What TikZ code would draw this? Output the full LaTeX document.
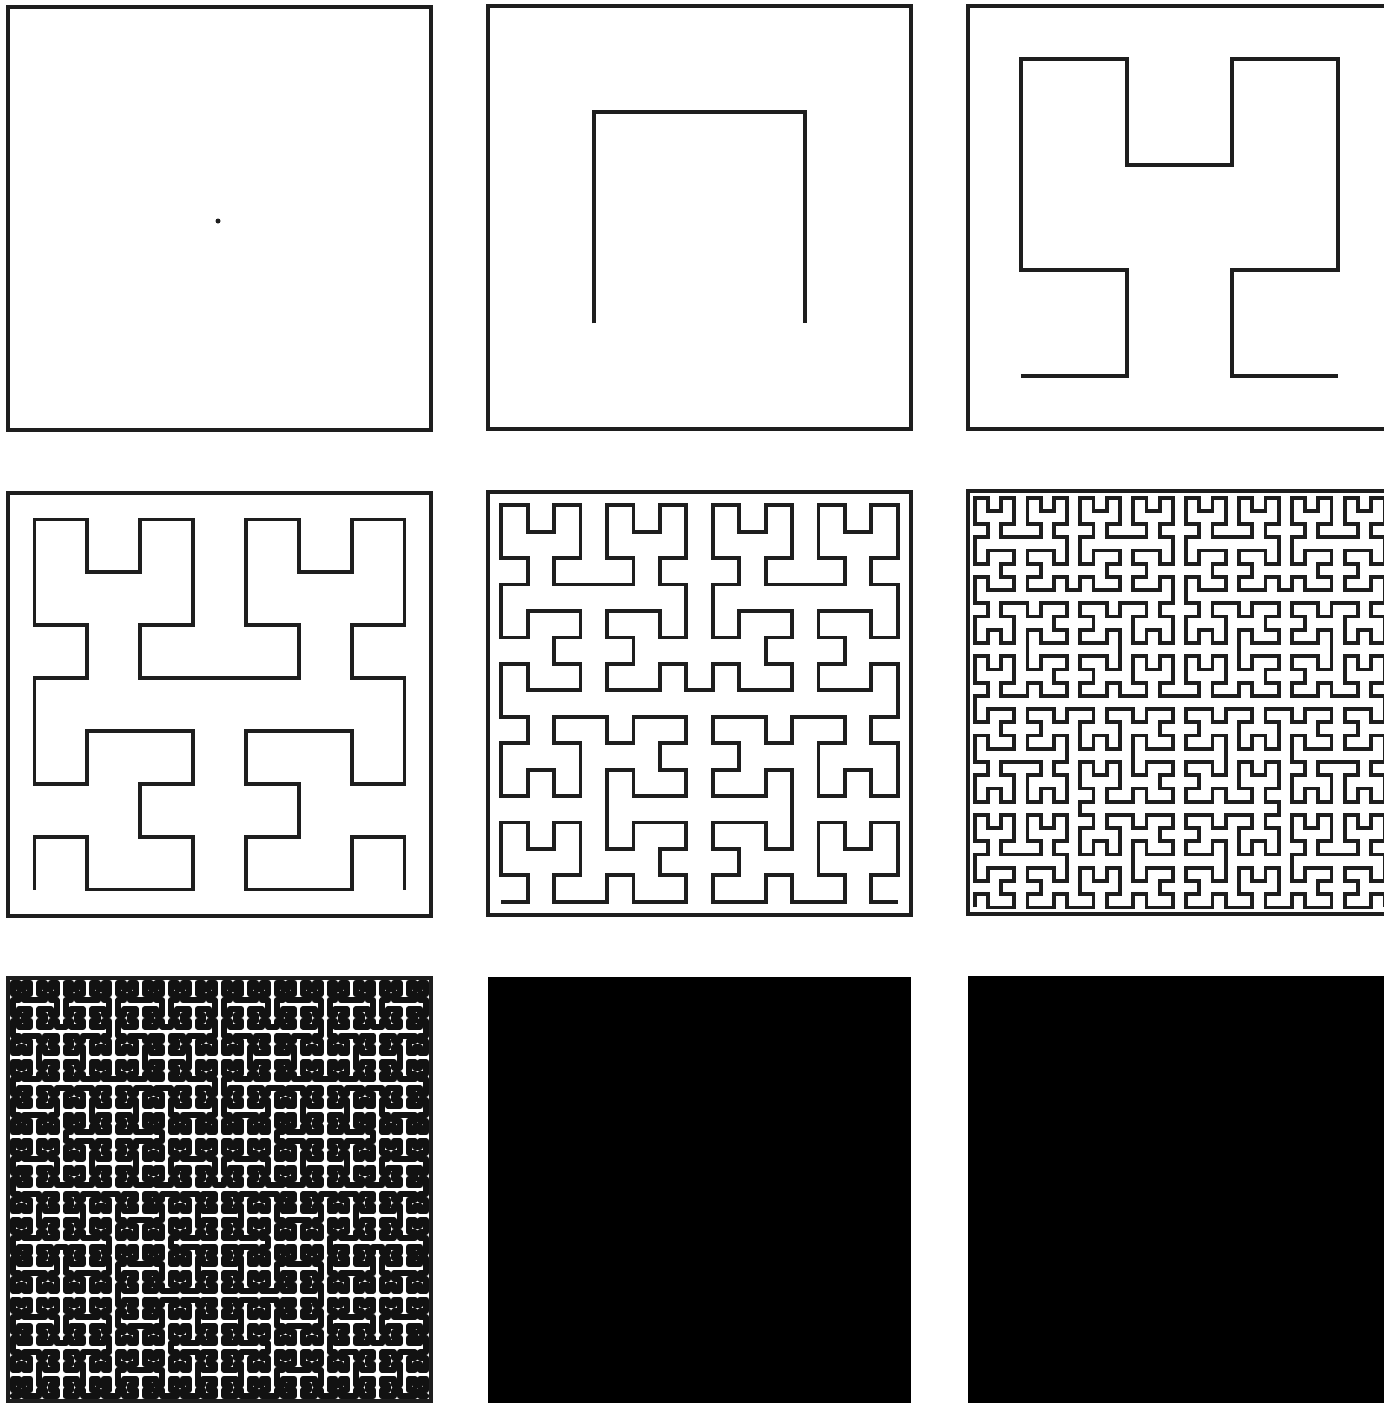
\documentclass[tikz,border=0pt]{standalone}
\definecolor{ink}{RGB}{30,30,30}
\definecolor{solid}{RGB}{18,18,18}
% --- Hilbert curve turtle ---
\newdimen\hilbx \newdimen\hilby \newcount\hilbdir
\def\hilbL{\global\advance\hilbdir 1 \ifnum\hilbdir>3 \global\advance\hilbdir -4 \fi}
\def\hilbR{\global\advance\hilbdir -1 \ifnum\hilbdir<0 \global\advance\hilbdir 4 \fi}
\def\hilbF#1{%
  \edef\hilblen{\csname hilbgap\romannumeral#1\endcsname}%
  \ifcase\hilbdir \global\advance\hilbx\hilblen\relax
  \or \global\advance\hilby\hilblen\relax
  \or \global\advance\hilbx-\hilblen\relax
  \or \global\advance\hilby-\hilblen\relax
  \fi
  \pgfpathlineto{\pgfqpoint{\hilbx}{\hilby}}}
\def\hilbAx#1{\expandafter\hilbA\expandafter{\the\numexpr#1-1\relax}}
\def\hilbBx#1{\expandafter\hilbB\expandafter{\the\numexpr#1-1\relax}}
\def\hilbA#1{\ifnum#1>0 \hilbL\hilbBx{#1}\hilbF{#1}\hilbR\hilbAx{#1}\hilbF{#1}\hilbAx{#1}\hilbR\hilbF{#1}\hilbBx{#1}\hilbL\fi}
\def\hilbB#1{\ifnum#1>0 \hilbR\hilbAx{#1}\hilbF{#1}\hilbL\hilbBx{#1}\hilbF{#1}\hilbBx{#1}\hilbL\hilbF{#1}\hilbAx{#1}\hilbR\fi}
% #1,#2 = panel top-left (px), #3 = order, #4 = margin (px)
\def\hilbcurve#1#2#3#4{%
  \pgfmathsetlength\hilbx{(#1+#4)*0.5pt}%
  \pgfmathsetlength\hilby{-(#2+423-#4)*0.5pt}%
  \global\hilbx=\hilbx \global\hilby=\hilby \global\hilbdir=0
  \pgfpathmoveto{\pgfqpoint{\hilbx}{\hilby}}%
  \hilbA{#3}%
  \pgfusepath{stroke}}
\def\setgaps#1#2#3#4#5#6{\def\hilbgapi{#1pt}\def\hilbgapii{#2pt}\def\hilbgapiii{#3pt}%
  \def\hilbgapiv{#4pt}\def\hilbgapv{#5pt}\def\hilbgapvi{#6pt}}
\newcommand\hilbpanel[4]{% x0, y0 (top-left, px), order, line width
  \draw[frame] (#1,#2) rectangle ++(423,423);
  \pgfmathsetmacro\hilbp{423/(2^#3)}%
  \pgfmathsetmacro\hilbg{\hilbp*0.5}%
  \setgaps{\hilbg}{\hilbg}{\hilbg}{\hilbg}{\hilbg}{\hilbg}%
  \begin{scope}[line width=#4, color=ink, line join=miter, line cap=butt]
  \hilbcurve{#1}{#2}{#3}{\hilbp/2}
  \end{scope}
}
\begin{document}
\begin{tikzpicture}[x=0.5pt,y=-0.5pt,
  frame/.style={draw=ink,line width=1.8pt}]
\useasboundingbox (0,0) rectangle (1384,1403);
\fill[white] (0,0) rectangle (1384,1403);
\clip (0,0) rectangle (1384,1403);
% row 1
\draw[frame] (8,7) rectangle ++(423,423);
\fill[ink] (218,221) circle (2.5);
\hilbpanel{488}{6}{1}{1.9pt}
\hilbpanel{968}{6}{2}{1.9pt}
% row 2
\hilbpanel{8}{493}{3}{1.9pt}
\hilbpanel{488}{492}{4}{1.9pt}
\hilbpanel{968}{491}{5}{1.9pt}
% row 3
\draw[frame] (8,978) rectangle ++(423,423);
\setgaps{2.9}{2.9}{4.5}{4.5}{4.5}{4.5}
\begin{scope}[line width=3.0pt, color=solid, line join=round, line cap=round]
\hilbcurve{8}{978}{6}{4.8}
\end{scope}
\fill[solid] (488,977) rectangle ++(423,430);
\fill[solid] (968,976) rectangle ++(423,430);
\end{tikzpicture}
\end{document}
